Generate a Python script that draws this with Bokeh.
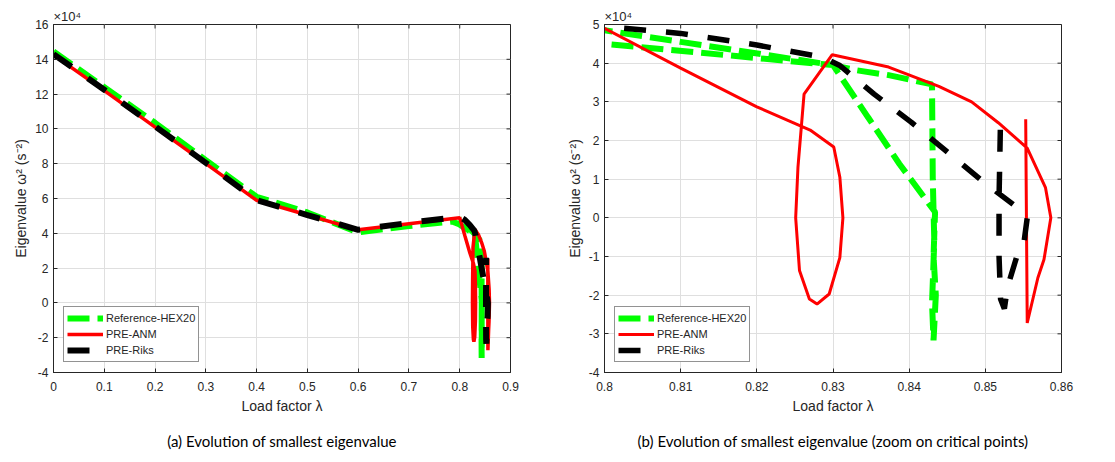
import math
from bokeh.plotting import figure
from bokeh.layouts import row
from bokeh.models import FixedTicker, Legend, LegendItem, Title, Range1d
from bokeh.embed import file_html
from bokeh.resources import INLINE

# ---- data (eigenvalue in units of 1e4 s^-2) ----
series_names = ["Reference-HEX20", "PRE-ANM", "PRE-Riks"]

ref_lambda = [0.0, 0.1, 0.2, 0.3, 0.4, 0.5, 0.6, 0.7, 0.785, 0.8, 0.83, 0.8346, 0.8387,
              0.8434, 0.8432, 0.8435, 0.8432, 0.8430, 0.8433, 0.8431, 0.8430, 0.8373,
              0.833, 0.83, 0.81, 0.8]
ref_eig = [14.45, 12.4, 10.35, 8.2, 6.1, 5.2, 4.05, 4.42, 4.68, 4.5, 3.95, 2.6, 1.4,
           0.15, -1.0, -2.0, -3.17, -2.2, -0.6, 1.0, 3.45, 3.69,
           3.82, 3.95, 4.55, 4.85]

anm_lambda = [0.0, 0.1, 0.2, 0.3, 0.4, 0.5, 0.6, 0.7, 0.8, 0.81, 0.82, 0.827, 0.8301,
              0.8309, 0.8313, 0.8309, 0.8295, 0.8279, 0.8269, 0.8256, 0.8251, 0.8254,
              0.8262, 0.8299, 0.8373, 0.8439, 0.8482, 0.8517, 0.8555, 0.8579, 0.8586,
              0.8577, 0.8569, 0.8555, 0.8553]
anm_eig = [14.25, 12.2, 10.1, 8.0, 5.9, 5.05, 4.2, 4.55, 4.9, 3.87, 2.87, 2.27, 1.83,
           1.05, 0.0, -1.03, -1.97, -2.23, -2.1, -1.36, 0.0, 1.31,
           3.2, 4.22, 3.9, 3.4, 3.0, 2.46, 1.8, 0.78, 0.0,
           -1.08, -1.55, -2.72, 2.55]

riks_lambda = [0.0, 0.1, 0.2, 0.3, 0.4, 0.5, 0.6, 0.7, 0.8, 0.81, 0.82, 0.8287, 0.8309,
               0.8354, 0.8403, 0.8448, 0.8495, 0.8541, 0.8555, 0.8550, 0.8541, 0.8529,
               0.8525, 0.8520, 0.8518, 0.8518, 0.8520]
riks_eig = [14.3, 12.25, 10.15, 8.05, 5.9, 5.05, 4.2, 4.6, 4.95, 4.77, 4.47, 4.15, 3.94,
            3.2, 2.47, 1.74, 0.97, 0.28, 0.0, -0.75, -1.02, -1.8,
            -2.35, -2.1, -1.0, 0.5, 2.6]

x_ticks_a = [0, 0.1, 0.2, 0.3, 0.4, 0.5, 0.6, 0.7, 0.8, 0.9]
x_labels_a = ["0", "0.1", "0.2", "0.3", "0.4", "0.5", "0.6", "0.7", "0.8", "0.9"]
y_ticks_a = [-4, -2, 0, 2, 4, 6, 8, 10, 12, 14, 16]
y_labels_a = ["-4", "-2", "0", "2", "4", "6", "8", "10", "12", "14", "16"]

x_ticks_b = [0.8, 0.81, 0.82, 0.83, 0.84, 0.85, 0.86]
x_labels_b = ["0.8", "0.81", "0.82", "0.83", "0.84", "0.85", "0.86"]
y_ticks_b = [-4, -3, -2, -1, 0, 1, 2, 3, 4, 5]
y_labels_b = ["-4", "-3", "-2", "-1", "0", "1", "2", "3", "4", "5"]

captions = ["(a) Evolution of smallest eigenvalue",
            "(b) Evolution of smallest eigenvalue (zoom on critical points)"]
x_label = "Load factor λ"
y_label = "Eigenvalue ω² (s⁻²)"
multiplier = "×10⁴"

AX = "#262626"
GRID = "#dfdfdf"
TFONT = "Liberation Sans"


def style_axis(ax, ticks, labels):
    ax.ticker = FixedTicker(ticks=ticks)
    ax.major_label_overrides = dict(zip(ticks, labels))
    ax.major_tick_in = 4
    ax.major_tick_out = 0
    ax.minor_tick_line_color = None
    ax.axis_line_color = AX
    ax.major_tick_line_color = AX
    ax.major_label_text_color = AX
    ax.major_label_text_font = TFONT
    ax.major_label_text_font_size = "12px"
    ax.axis_label_text_font = TFONT
    ax.axis_label_text_font_size = "14px"
    ax.axis_label_text_font_style = "normal"
    ax.axis_label_text_color = AX


def make_panel(xr, yr, xt, xl, yt, yl, caption, width, bl, br, widths):
    p = figure(width=width, height=462, output_backend="svg", toolbar_location=None,
               x_range=Range1d(*xr), y_range=Range1d(*yr),
               min_border_left=bl, min_border_right=br,
               min_border_top=24, min_border_bottom=90)
    p.background_fill_color = "white"
    p.border_fill_color = "white"
    p.outline_line_color = AX
    p.outline_line_width = 1

    bx, ly = p.below[0], p.left[0]
    style_axis(bx, xt, xl)
    style_axis(ly, yt, yl)
    bx.major_label_standoff = 9
    ly.major_label_standoff = 5
    bx.axis_label = x_label
    ly.axis_label = y_label
    bx.axis_label_standoff = 4
    ly.axis_label_standoff = 3

    p.xgrid.ticker = FixedTicker(ticks=xt)
    p.ygrid.ticker = FixedTicker(ticks=yt)
    p.xgrid.grid_line_color = GRID
    p.ygrid.grid_line_color = GRID

    # inward ticks on the top and right edges of the box
    p.ray(x=xt, y=[yr[1]] * len(xt), length=4, length_units="screen",
          angle=-math.pi / 2, line_color=AX, line_width=1)
    p.ray(x=[xr[1]] * len(yt), y=yt, length=4, length_units="screen",
          angle=math.pi, line_color=AX, line_width=1)

    p.title.text = multiplier
    p.title.align = "left"
    p.title.text_font = TFONT
    p.title.text_font_size = "13px"
    p.title.text_font_style = "normal"
    p.title.text_color = AX
    p.title.standoff = 1

    p.add_layout(Title(text=caption, align="center", text_font="Lato",
                       text_font_size="15px", text_font_style="normal",
                       text_color="black", standoff=26), "below")

    g = p.line(ref_lambda, ref_eig, line_color="#00ff00", line_width=widths[0],
               line_dash="22 8")
    r = p.line(anm_lambda, anm_eig, line_color="#ff0000", line_width=widths[1])
    k = p.line(riks_lambda, riks_eig, line_color="black", line_width=widths[2],
               line_dash="22 20")

    leg = Legend(items=[LegendItem(label=series_names[0], renderers=[g]),
                        LegendItem(label=series_names[1], renderers=[r]),
                        LegendItem(label=series_names[2], renderers=[k])],
                 location="bottom_left", margin=10, padding=3, spacing=0,
                 label_height=16, glyph_height=16, glyph_width=36, label_standoff=3,
                 label_text_font=TFONT, label_text_font_size="11px",
                 label_text_color=AX, border_line_color=AX, border_line_width=1,
                 background_fill_color="white", background_fill_alpha=1.0)
    p.add_layout(leg)
    return p


pa = make_panel((0, 0.9), (-4, 16), x_ticks_a, x_labels_a, y_ticks_a, y_labels_a,
                captions[0], 557, 53, 47, (6, 3.5, 6))
pb = make_panel((0.8, 0.86), (-4, 5), x_ticks_b, x_labels_b, y_ticks_b, y_labels_b,
                captions[1], 558, 47, 54, (6, 3, 5.5))

layout = row(pa, pb, spacing=0)
open("out.html", "w").write(file_html(layout, INLINE))
